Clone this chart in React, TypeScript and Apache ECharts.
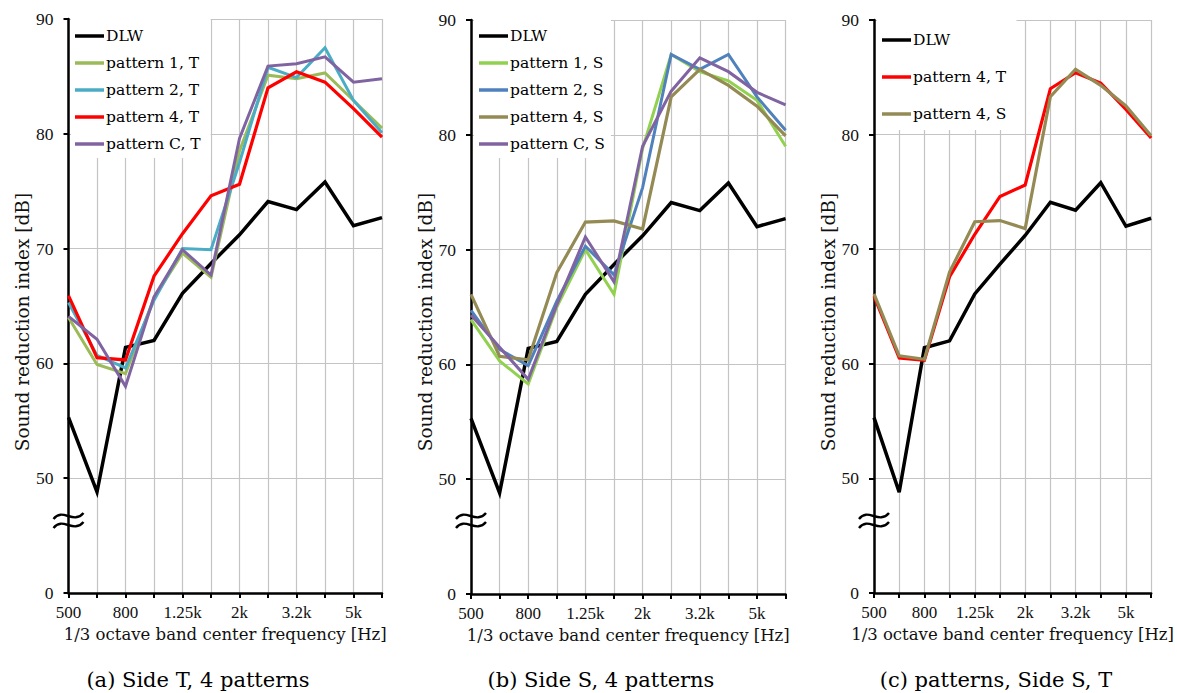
import React, { useEffect, useRef } from "react";
import * as echarts from "echarts";

const freqs = ["500", "630", "800", "1k", "1.25k", "1.6k", "2k", "2.5k", "3.2k", "4k", "5k", "6.3k"];
const yTicks = [40, 50, 60, 70, 80, 90];

const dlw = [55.3, 48.8, 61.4, 62.0, 66.1, 68.7, 71.2, 74.1, 73.4, 75.8, 72.0, 72.7];

const p1T = [64.0, 59.9, 59.1, 65.7, 69.6, 67.5, 78.5, 85.1, 84.8, 85.3, 82.9, 80.5];
const p2T = [65.3, 60.7, 59.6, 65.5, 70.0, 69.9, 77.5, 85.8, 84.9, 87.5, 82.9, 80.1];
const p4T = [65.9, 60.5, 60.3, 67.6, 71.3, 74.6, 75.6, 84.0, 85.4, 84.5, 82.2, 79.7];
const pCT = [64.1, 62.1, 58.0, 65.8, 69.9, 67.7, 79.6, 85.9, 86.1, 86.7, 84.5, 84.8];

const p1S = [63.9, 60.3, 58.3, 65.0, 70.0, 66.1, 78.8, 87.0, 85.5, 84.7, 83.0, 79.0];
const p2S = [64.7, 61.3, 59.9, 65.5, 70.3, 67.8, 75.4, 87.0, 85.7, 87.0, 83.3, 80.4];
const p4S = [66.1, 60.7, 60.4, 68.0, 72.4, 72.5, 71.8, 83.3, 85.7, 84.3, 82.5, 79.9];
const pCS = [64.3, 61.5, 58.7, 65.2, 71.1, 67.2, 79.0, 83.8, 86.7, 85.5, 83.7, 82.6];

const captions = ["(a) Side T, 4 patterns", "(b) Side S, 4 patterns", "(c) patterns, Side S, T"];
const yName = "Sound reduction index [dB]";
const xName = "1/3 octave band center frequency [Hz]";

const panels = [
  {
    series: [
      { name: "DLW", data: dlw, color: "#000000", width: 3.5 },
      { name: "pattern 1, T", data: p1T, color: "#9bbb59", width: 3 },
      { name: "pattern 2, T", data: p2T, color: "#4bacc6", width: 3 },
      { name: "pattern 4, T", data: p4T, color: "#ff0000", width: 3.2 },
      { name: "pattern C, T", data: pCT, color: "#8064a2", width: 3 },
    ],
  },
  {
    series: [
      { name: "DLW", data: dlw, color: "#000000", width: 3.5 },
      { name: "pattern 1, S", data: p1S, color: "#92d050", width: 3 },
      { name: "pattern 2, S", data: p2S, color: "#4f81bd", width: 3 },
      { name: "pattern 4, S", data: p4S, color: "#948a54", width: 3.2 },
      { name: "pattern C, S", data: pCS, color: "#8064a2", width: 3 },
    ],
  },
  {
    series: [
      { name: "DLW", data: dlw, color: "#000000", width: 3.5 },
      { name: "pattern 4, T", data: p4T, color: "#ff0000", width: 3.2 },
      { name: "pattern 4, S", data: p4S, color: "#948a54", width: 3.2 },
    ],
  },
];

const layout = [
  { left: 68.5, top: 19, width: 313.5, height: 574, legendLeft: 71, legendGap: 11, legendPad: [9, 10, 6, 4], yNameX: 22, capX: 198 },
  { left: 471, top: 20, width: 314.6, height: 574, legendLeft: 474, legendGap: 11, legendPad: [8, 6, 6, 5], yNameX: 425, capX: 601 },
  { left: 874, top: 20, width: 314.6, height: 573, legendLeft: 877, legendGap: 21, legendPad: [12, 10, 8, 5], yNameX: 828, capX: 996 },
];

const serif = "'Liberation Serif', 'Times New Roman', serif";
const wide = "'DejaVu Serif', serif";

export default function App() {
  const ref = useRef<HTMLDivElement>(null);
  useEffect(() => {
    if (!ref.current) return;
    const chart = echarts.init(ref.current, undefined, { renderer: "svg" });

    const grid: any[] = [];
    const xAxis: any[] = [];
    const yAxis: any[] = [];
    const legend: any[] = [];
    const series: any[] = [];
    const graphic: any[] = [];

    panels.forEach((p, i) => {
      const L = layout[i];
      grid.push({ left: L.left, top: L.top, width: L.width, height: L.height, containLabel: false });
      xAxis.push({
        type: "category",
        gridIndex: i,
        data: freqs,
        boundaryGap: false,
        name: xName,
        nameLocation: "middle",
        nameGap: 24,
        nameTextStyle: { fontFamily: wide, fontSize: 16.5, color: "#111", verticalAlign: "top" },
        axisLine: { show: true, lineStyle: { color: "#000", width: 2.5 } },
        axisTick: { show: true, interval: 0, length: 5, inside: false, lineStyle: { color: "#000", width: 2 } },
        axisLabel: { interval: 1, margin: 11, fontFamily: serif, fontSize: 17, color: "#111" },
        splitLine: { show: true, interval: 0, lineStyle: { color: "#c4c4c4", width: 1.2 } },
        z: 1,
      });
      yAxis.push({
        type: "value",
        gridIndex: i,
        min: yTicks[0],
        max: yTicks[yTicks.length - 1],
        interval: 10,
        axisLine: { show: true, lineStyle: { color: "#000", width: 2.5 } },
        axisTick: { show: true, length: 5, lineStyle: { color: "#000", width: 2 } },
        axisLabel: {
          margin: 15,
          fontFamily: serif,
          fontSize: 17.5,
          color: "#111",
          formatter: (v: number) => (v === 40 ? "0" : String(v)),
        },
        splitLine: { show: true, lineStyle: { color: "#c4c4c4", width: 1.2 } },
        z: 1,
      });
      legend.push({
        show: true,
        orient: "vertical",
        left: L.legendLeft,
        top: L.top,
        data: p.series.map((s) => ({ name: s.name, icon: "rect" })),
        itemWidth: 29,
        itemHeight: 3.5,
        itemGap: L.legendGap,
        padding: L.legendPad,
        backgroundColor: "#ffffff",
        selectedMode: false,
        textStyle: { fontFamily: wide, fontSize: 15.5, color: "#000", padding: [0, 0, 0, -3] },
        z: 5,
      });
      p.series.forEach((s) => {
        series.push({
          type: "line",
          name: s.name,
          xAxisIndex: i,
          yAxisIndex: i,
          data: s.data,
          symbol: "none",
          showSymbol: false,
          color: s.color,
          lineStyle: { color: s.color, width: s.width, join: "miter" },
          itemStyle: { color: s.color },
          z: 3,
        });
      });
      graphic.push({
        type: "text",
        x: L.yNameX,
        y: 322,
        rotation: Math.PI / 2,
        style: {
          text: yName,
          fontFamily: wide,
          fontSize: 18.5,
          fill: "#111",
          align: "center",
          verticalAlign: "middle",
        },
        z: 10,
      });
      const bx = L.left;
      [516, 525].forEach((by) => {
        graphic.push({
          type: "bezierCurve",
          shape: { x1: bx - 15, y1: by + 3, cpx1: bx - 6, cpy1: by - 9, cpx2: bx + 5, cpy2: by + 9, x2: bx + 15, y2: by - 3 },
          style: { stroke: "#000", lineWidth: 2.4, fill: null },
          z: 10,
        });
      });
      graphic.push({
        type: "text",
        x: L.capX,
        y: 680,
        style: {
          text: captions[i],
          fontFamily: wide,
          fontSize: 21,
          fill: "#000",
          align: "center",
          verticalAlign: "middle",
        },
        z: 10,
      });
    });

    chart.setOption({
      animation: false,
      backgroundColor: "#ffffff",
      grid,
      xAxis,
      yAxis,
      legend,
      series,
      graphic,
    });
    return () => chart.dispose();
  }, []);

  return (
    <div
      ref={ref}
      style={{ position: "fixed", left: 0, top: 0, width: 1177, height: 693, overflow: "hidden", background: "#fff" }}
    />
  );
}
